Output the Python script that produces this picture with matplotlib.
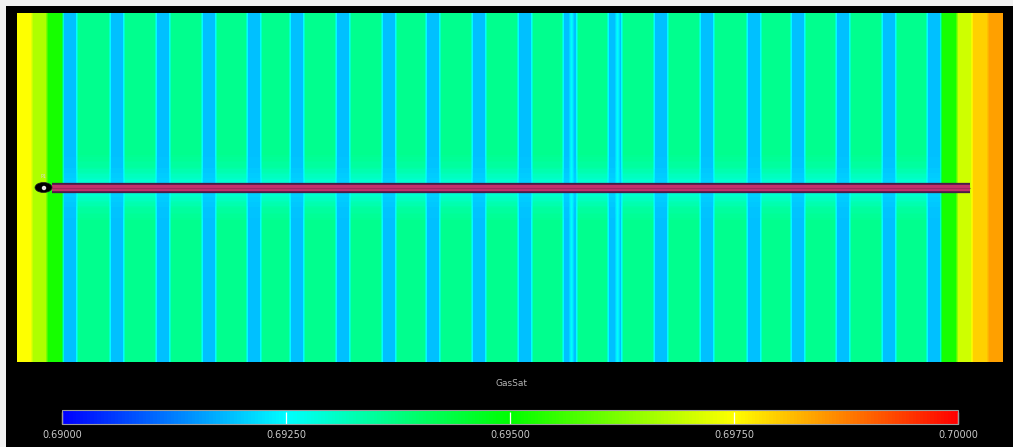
import numpy as np
import matplotlib
matplotlib.use("Agg")
import matplotlib.pyplot as plt
from matplotlib.colors import LinearSegmentedColormap, Normalize
from matplotlib.cm import ScalarMappable
from matplotlib.patches import Ellipse, Circle, Rectangle

# ---- model geometry (m) and gas saturation values ----
model_length = 985
model_width = 349

boundary_left_edges = [0, 15, 30, 46]
boundary_left_values = [0.6975, 0.6967, 0.6952]

boundary_right_edges = [923, 939, 954, 970, 985]
boundary_right_values = [0.6952, 0.6970, 0.69795, 0.69843]

fracture_starts = [46, 93, 139, 185, 230, 273, 319, 365, 409, 455,
                   500, 545, 590, 636, 682, 729, 773, 818, 864, 909]
fracture_width = 14
fracture_value = 0.6919
matrix_value = 0.6936

seam_starts = [552, 598]
seam_width = 3
seam_value = 0.6926

# saturation drawdown around the horizontal well
halo_edges = [0, 5, 10, 15, 20, 26, 32]
halo_weights = [0.9, 0.75, 0.55, 0.35, 0.2, 0.08]
halo_matrix_value = 0.6928
halo_fracture_value = 0.6921

well_start, well_end = 35, 953
well_label = "P1"

cbar_ticks = [0.69000, 0.69250, 0.69500, 0.69750, 0.70000]
cbar_title = "GasSat"

# ---- colormap ----
cmap = LinearSegmentedColormap.from_list(
    "sat", ["#0000ff", "#00ffff", "#00ff00", "#ffff00", "#ff0000"])
norm = Normalize(vmin=cbar_ticks[0], vmax=cbar_ticks[-1])

# ---- build the saturation grid (1 m cells) ----
xc = np.arange(model_length) + 0.5
base = np.full(model_length, matrix_value)
target = np.full(model_length, halo_matrix_value)
for s in fracture_starts:
    m = (xc >= s) & (xc < s + fracture_width)
    base[m] = fracture_value
    target[m] = halo_fracture_value
for s in seam_starts:
    m = (xc >= s) & (xc < s + seam_width)
    base[m] = seam_value
    target[m] = seam_value
for edges, values in ((boundary_left_edges, boundary_left_values),
                      (boundary_right_edges, boundary_right_values)):
    for a, b, v in zip(edges[:-1], edges[1:], values):
        m = (xc >= a) & (xc < b)
        base[m] = v
        target[m] = v

yc = np.arange(model_width) + 0.5 - model_width / 2
dist = np.abs(yc)
w = np.zeros(model_width)
for a, b, hw in zip(halo_edges[:-1], halo_edges[1:], halo_weights):
    w[(dist >= a) & (dist < b)] = hw

field = base[None, :] + w[:, None] * (target - base)[None, :]

# light smoothing of cell boundaries
pad = np.pad(field, 1, mode="edge")
field = sum(pad[i:i + model_width, j:j + model_length]
            for i in range(3) for j in range(3)) / 9.0

# ---- figure ----
W, H = 1013, 447
fig = plt.figure(figsize=(W / 100, H / 100), dpi=100, facecolor="#f2f2f2")
fig.patches.append(Rectangle((6 / W, 0), 1, (H - 6) / H,
                             transform=fig.transFigure, fc="black",
                             ec="none", zorder=-5))

ax = fig.add_axes([17 / W, (H - 362) / H, 985 / W, 349 / H])
ax.imshow(field, extent=[0, model_length, -model_width / 2, model_width / 2],
          origin="upper", cmap=cmap, norm=norm, aspect="auto",
          interpolation="nearest")
ax.set_xlim(0, model_length)
ax.set_ylim(-model_width / 2, model_width / 2)
ax.axis("off")

# horizontal well
ax.plot([well_start, well_end], [0, 0], color="#4a1c48", lw=7.4,
        solid_capstyle="butt", zorder=3)
ax.plot([well_start, well_end], [0, 0], color="#c4306c", lw=4.6,
        solid_capstyle="butt", zorder=4)
ax.plot([well_start, well_end], [0, 0], color="#a02860", lw=0.8,
        solid_capstyle="butt", zorder=5)
ax.add_patch(Ellipse((26.5, 0), 17, 10, fc="black", ec="#202020",
                     lw=0.5, zorder=6))
ax.add_patch(Circle((27, -0.5), 2.2, fc="#e8e8e8", ec="none", zorder=7))
ax.text(26, 8, well_label, color="#d8d8d8", fontsize=3.5,
        ha="center", va="bottom", zorder=7)

# colorbar
fig.text(511 / W, (H - 384) / H, cbar_title, color="#b4b4b4",
         fontsize=6.5, ha="center", va="center")
cax = fig.add_axes([62 / W, (H - 424) / H, 896 / W, 14 / H])
cb = fig.colorbar(ScalarMappable(norm=norm, cmap=cmap), cax=cax,
                  orientation="horizontal")
cb.set_ticks(cbar_ticks)
cb.set_ticklabels([f"{t:.5f}" for t in cbar_ticks])
cb.outline.set_edgecolor("#9a9a9a")
cb.outline.set_linewidth(0.8)
cax.tick_params(axis="x", direction="in", length=9, width=0.9,
                color="white", labelcolor="#c8c8c8", labelsize=7, pad=4)

fig.savefig("out.png", dpi=100, facecolor=fig.get_facecolor())
